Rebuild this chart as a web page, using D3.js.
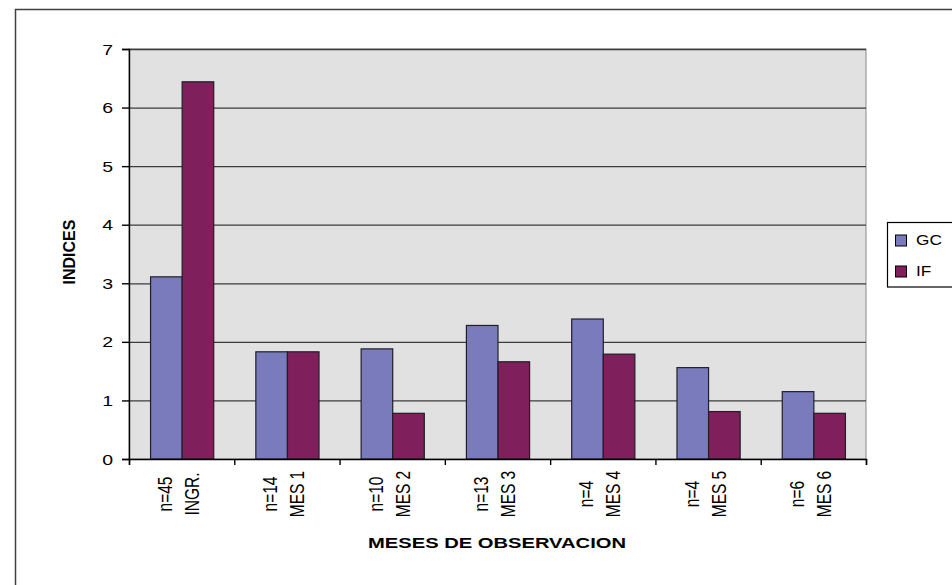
<!DOCTYPE html>
<html>
<head>
<meta charset="utf-8">
<script src="https://cdn.jsdelivr.net/npm/d3@7"></script>
<style>
  html, body { margin: 0; padding: 0; background: #fff; }
  svg { display: block; }
  text { font-family: Arial, "Liberation Sans", sans-serif; fill: #000; }
</style>
</head>
<body>
<svg id="chart" width="952" height="585"></svg>
<script>
// ---- data ----
const categories = ["INGR.", "MES 1", "MES 2", "MES 3", "MES 4", "MES 5", "MES 6"];
const sampleSizes = ["n=45", "n=14", "n=10", "n=13", "n=4", "n=4", "n=6"];
const seriesNames = ["GC", "IF"];
const gcValues = [3.11, 1.83, 1.88, 2.28, 2.39, 1.56, 1.15];
const ifValues = [6.44, 1.83, 0.78, 1.66, 1.79, 0.81, 0.78];
const yTicks = [0, 1, 2, 3, 4, 5, 6, 7];
const xTitle = "MESES DE OBSERVACION";
const yTitle = "INDICES";

const colors = { GC: "#7A7BBC", IF: "#7F1F5B" };

const svg = d3.select("#chart");
const plot = { left: 129, right: 866, top: 49, bottom: 459 };

// outer frame
svg.append("rect")
  .attr("x", 15.5).attr("y", 9.5)
  .attr("width", 1000).attr("height", 700)
  .attr("fill", "#fff").attr("stroke", "#404040").attr("stroke-width", 1.5);

const x0 = d3.scaleBand().domain(categories).range([plot.left, plot.right]).padding(0);
const bw = x0.bandwidth();
const x1 = d3.scaleBand().domain(seriesNames).range([0.2 * bw, 0.8 * bw]).padding(0);
const y = d3.scaleLinear().domain([0, 7]).range([plot.bottom, plot.top]);

// plot background
svg.append("rect")
  .attr("x", plot.left).attr("y", plot.top)
  .attr("width", plot.right - plot.left).attr("height", plot.bottom - plot.top)
  .attr("fill", "#E1E1E1").attr("stroke", "#8a8a8a").attr("stroke-width", 1);

// gridlines
const grid = svg.append("g")
  .attr("transform", `translate(${plot.left},0)`)
  .call(d3.axisLeft(y).tickValues(yTicks.slice(1)).tickSize(-(plot.right - plot.left)).tickFormat(""));
grid.select(".domain").remove();
grid.selectAll("line").attr("stroke", "#3c3c3c").attr("stroke-width", 1.3);

// bars
const data = categories.map((c, i) => ({ cat: c, n: sampleSizes[i], GC: gcValues[i], IF: ifValues[i] }));
const groups = svg.append("g").selectAll("g").data(data).join("g")
  .attr("transform", d => `translate(${x0(d.cat)},0)`);
groups.selectAll("rect")
  .data(d => seriesNames.map(s => ({ s, v: d[s] })))
  .join("rect")
  .attr("x", d => x1(d.s) + 0.5)
  .attr("y", d => y(d.v))
  .attr("width", x1.bandwidth())
  .attr("height", d => y(0) - y(d.v))
  .attr("fill", d => colors[d.s])
  .attr("stroke", "#1f1f2a").attr("stroke-width", 1.2);

// y axis
const yAxis = svg.append("g")
  .attr("transform", `translate(${plot.left},0)`)
  .call(d3.axisLeft(y).tickValues(yTicks).tickSize(7).tickFormat(""));
yAxis.selectAll("path,line").attr("stroke", "#000").attr("stroke-width", 1.4);

svg.append("g").selectAll("text").data(yTicks).join("text")
  .attr("transform", d => `translate(113,${y(d) + 5.5}) scale(1.3,1)`)
  .attr("text-anchor", "end")
  .attr("font-size", 15)
  .text(d => d);

// x axis (boundary ticks)
const xb = d3.scaleLinear().domain([0, categories.length]).range([plot.left, plot.right]);
const xAxis = svg.append("g")
  .attr("transform", `translate(0,${plot.bottom})`)
  .call(d3.axisBottom(xb).tickValues(d3.range(categories.length + 1)).tickSize(6).tickFormat("").tickSizeOuter(6));
xAxis.selectAll("path,line").attr("stroke", "#000").attr("stroke-width", 1.4);

// category labels (two lines, rotated)
const labG = svg.append("g");
data.forEach(d => {
  const c = x0(d.cat) + bw / 2;
  [d.n, d.cat].forEach((t, i) => {
    const bx = c + (i - 0.5) * 27 + 4;
    labG.append("text")
      .attr("transform", `translate(${bx},494) scale(1.25,1) rotate(-90)`)
      .attr("text-anchor", "middle")
      .attr("font-size", 15.5)
      .text(t);
  });
});

// axis titles
svg.append("text")
  .attr("x", 497).attr("y", 548)
  .attr("text-anchor", "middle")
  .attr("font-size", 15.5).attr("font-weight", "bold")
  .attr("textLength", 258).attr("lengthAdjust", "spacingAndGlyphs")
  .text(xTitle);

svg.append("text")
  .attr("transform", "translate(75,252) rotate(-90)")
  .attr("text-anchor", "middle")
  .attr("font-size", 16).attr("font-weight", "bold")
  .text(yTitle);

// legend
const leg = svg.append("g");
leg.append("rect")
  .attr("x", 887.5).attr("y", 222.5).attr("width", 100).attr("height", 64.5)
  .attr("fill", "#fff").attr("stroke", "#000").attr("stroke-width", 1.2);
seriesNames.forEach((s, i) => {
  const yy = 235 + i * 31;
  leg.append("rect")
    .attr("x", 895.5).attr("y", yy).attr("width", 11).attr("height", 11)
    .attr("fill", colors[s]).attr("stroke", "#000").attr("stroke-width", 1);
  leg.append("text")
    .attr("transform", `translate(916,${yy + 9.5}) scale(1.15,1)`)
    .attr("font-size", 15)
    .text(s);
});
</script>
</body>
</html>
